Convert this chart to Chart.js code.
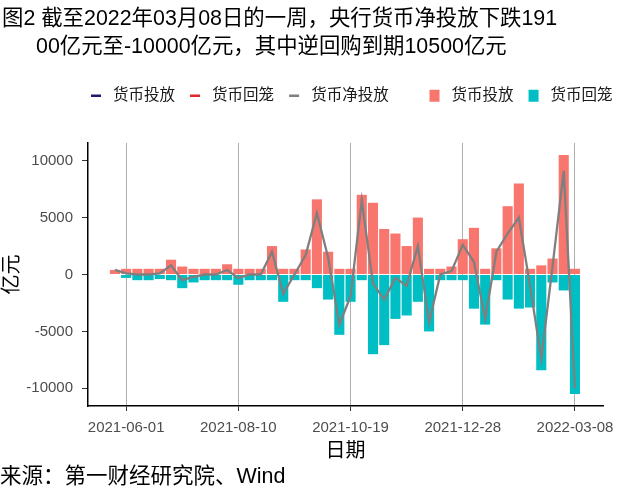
<!DOCTYPE html>
<html><head><meta charset="utf-8">
<script src="https://cdn.jsdelivr.net/npm/chart.js@4"></script>
<style>
html,body{margin:0;padding:0;background:#fff;}
#wrap{position:relative;width:640px;height:498px;overflow:hidden;background:#fff;}
#c{position:absolute;left:0;top:0;}
.t{position:absolute;white-space:nowrap;font-family:"Liberation Sans","Noto Sans CJK SC",sans-serif;color:#000;line-height:1;}
</style></head><body>
<div id="wrap">
<canvas id="c" width="640" height="498"></canvas>
<div class="t" style="left:2px;top:8px;font-size:21.4px">图2 截至2022年03月08日的一周，央行货币净投放下跌191</div>
<div class="t" style="left:36px;top:36px;font-size:21.4px">00亿元至-10000亿元，其中逆回购到期10500亿元</div>
<div class="t" style="left:0px;top:466px;font-size:21.5px">来源：第一财经研究院、Wind</div>
</div>
<script>
const dates = ['2021-05-25','2021-06-01','2021-06-08','2021-06-15','2021-06-22','2021-06-29',
  '2021-07-06','2021-07-13','2021-07-20','2021-07-27','2021-08-03','2021-08-10','2021-08-17',
  '2021-08-24','2021-08-31','2021-09-07','2021-09-14','2021-09-21','2021-09-28','2021-10-05',
  '2021-10-12','2021-10-19','2021-10-26','2021-11-02','2021-11-09','2021-11-16','2021-11-23',
  '2021-11-30','2021-12-07','2021-12-14','2021-12-21','2021-12-28','2022-01-04','2022-01-11',
  '2022-01-18','2022-01-25','2022-02-01','2022-02-08','2022-02-15','2022-02-22','2022-03-01','2022-03-08'];
const tickDates = ['2021-06-01','2021-08-10','2021-10-19','2021-12-28','2022-03-08'];
const yTicks = [-10000,-5000,0,5000,10000];
// 货币投放 (bars, positive)
const injection = [400,500,500,500,500,1300,700,500,500,500,900,500,500,500,2500,500,500,2200,6600,2000,
  500,500,7000,6300,4000,3600,2500,5000,500,500,700,3100,4100,500,2300,6000,8000,500,800,1400,10500,500];
// 货币回笼 (bars, negative)
const withdrawal = [0,-300,-500,-500,-400,-500,-1200,-700,-500,-500,-500,-900,-500,-500,-500,-2400,-500,-500,-1200,-2200,
  -5300,-2400,-500,-7000,-6200,-3900,-3600,-2400,-5000,-500,-500,-500,-3000,-4400,-500,-2200,-3000,-2900,-8400,-700,-1400,-10500];
// 货币净投放 (line)
const netInjection = [400,100,0,0,100,800,-500,-200,0,0,400,-300,0,0,2000,-1700,0,1700,5400,1500,
  -4400,-1900,6500,-800,-2200,-300,-1000,2500,-4200,0,300,2600,1100,-3900,2000,3600,5000,-1000,-7400,700,9100,-10000];

const pts = arr => arr.map((v, i) => ({x: i, y: v}));
Chart.defaults.font.family = '"Liberation Sans","Noto Sans CJK SC",sans-serif';

const LEG_DX = 76, LEG_H = 70;
const legendTweak = {
  id: 'legendTweak',
  beforeUpdate(chart) {
    const lg = chart.legend;
    if (lg && !lg.__w) {
      const f = lg.fit;
      lg.fit = function () { f.call(this); this.height = LEG_H; };
      lg.__w = true;
    }
  },
  afterLayout(chart) {
    const lg = chart.legend;
    if (lg) { lg.left += LEG_DX; lg.right += LEG_DX; }
  }
};

new Chart(document.getElementById('c'), {
  type: 'bar',
  data: {
    datasets: [
      {type: 'line', label: '货币投放', data: [], borderColor: '#1b1b6b', borderWidth: 2.5, pointRadius: 0},
      {type: 'line', label: '货币回笼', data: [], borderColor: '#e0262b', borderWidth: 2.5, pointRadius: 0},
      {type: 'line', label: '货币净投放', data: pts(netInjection), borderColor: '#7f7f7f', borderWidth: 2.3,
        pointRadius: 0, tension: 0},
      {type: 'bar', label: '货币投放', data: pts(injection), backgroundColor: '#F8766D', borderWidth: 0,
        grouped: false, barPercentage: 0.9, categoryPercentage: 1},
      {type: 'bar', label: '货币回笼', data: pts(withdrawal), backgroundColor: '#00BFC4', borderWidth: 0,
        grouped: false, barPercentage: 0.9, categoryPercentage: 1}
    ]
  },
  options: {
    responsive: false,
    animation: false,
    devicePixelRatio: 1,
    layout: {padding: {top: 73, right: 37, bottom: 0, left: 0}},
    plugins: {
      tooltip: {enabled: false},
      legend: {
        position: 'top',
        align: 'start',
        labels: {
          usePointStyle: true,
          pointStyleWidth: 10,
          boxHeight: 12,
          padding: 15,
          color: '#1a1a1a',
          font: {size: 15.5},
          generateLabels(chart) {
            return chart.data.datasets.map((ds, i) => {
              const isBar = ds.type === 'bar';
              const c = isBar ? ds.backgroundColor : ds.borderColor;
              const tail = i === 2 ? '      ' : '';
              return {text: ' ' + ds.label + tail, fillStyle: c, strokeStyle: c, lineWidth: isBar ? 0 : 2.5,
                pointStyle: isBar ? 'rect' : 'line', hidden: false, datasetIndex: i, fontColor: '#1a1a1a'};
            });
          }
        }
      }
    },
    scales: {
      x: {
        type: 'linear', min: -2.4, max: 43.5, offset: false,
        afterFit(s) { s.height = 92; },
        afterBuildTicks(s) { s.ticks = tickDates.map(d => ({value: dates.indexOf(d)})); },
        ticks: {color: '#4d4d4d', font: {size: 15}, padding: 8, maxRotation: 0, autoSkip: false,
          callback: (v) => dates[v]},
        grid: {offset: false, color: '#b0b0b0', lineWidth: 1, tickLength: 5, tickColor: '#333', drawTicks: true},
        border: {color: '#000', width: 1.5},
        title: {display: true, text: '日期', color: '#000', font: {size: 20}, padding: {top: 0, bottom: 35}}
      },
      y: {
        min: -11550, max: 11550,
        afterFit(s) { s.width = 88; },
        afterBuildTicks(s) { s.ticks = yTicks.map(v => ({value: v})); },
        ticks: {color: '#4d4d4d', font: {size: 15}, padding: 9, callback: (v) => String(v)},
        grid: {drawOnChartArea: false, drawTicks: true, tickLength: 6, tickColor: '#333'},
        border: {color: '#000', width: 1.5},
        title: {display: true, text: '亿元', color: '#000', font: {size: 20}, padding: {top: 0, bottom: 0}}
      }
    }
  },
  plugins: [legendTweak]
});
</script>
</body></html>
